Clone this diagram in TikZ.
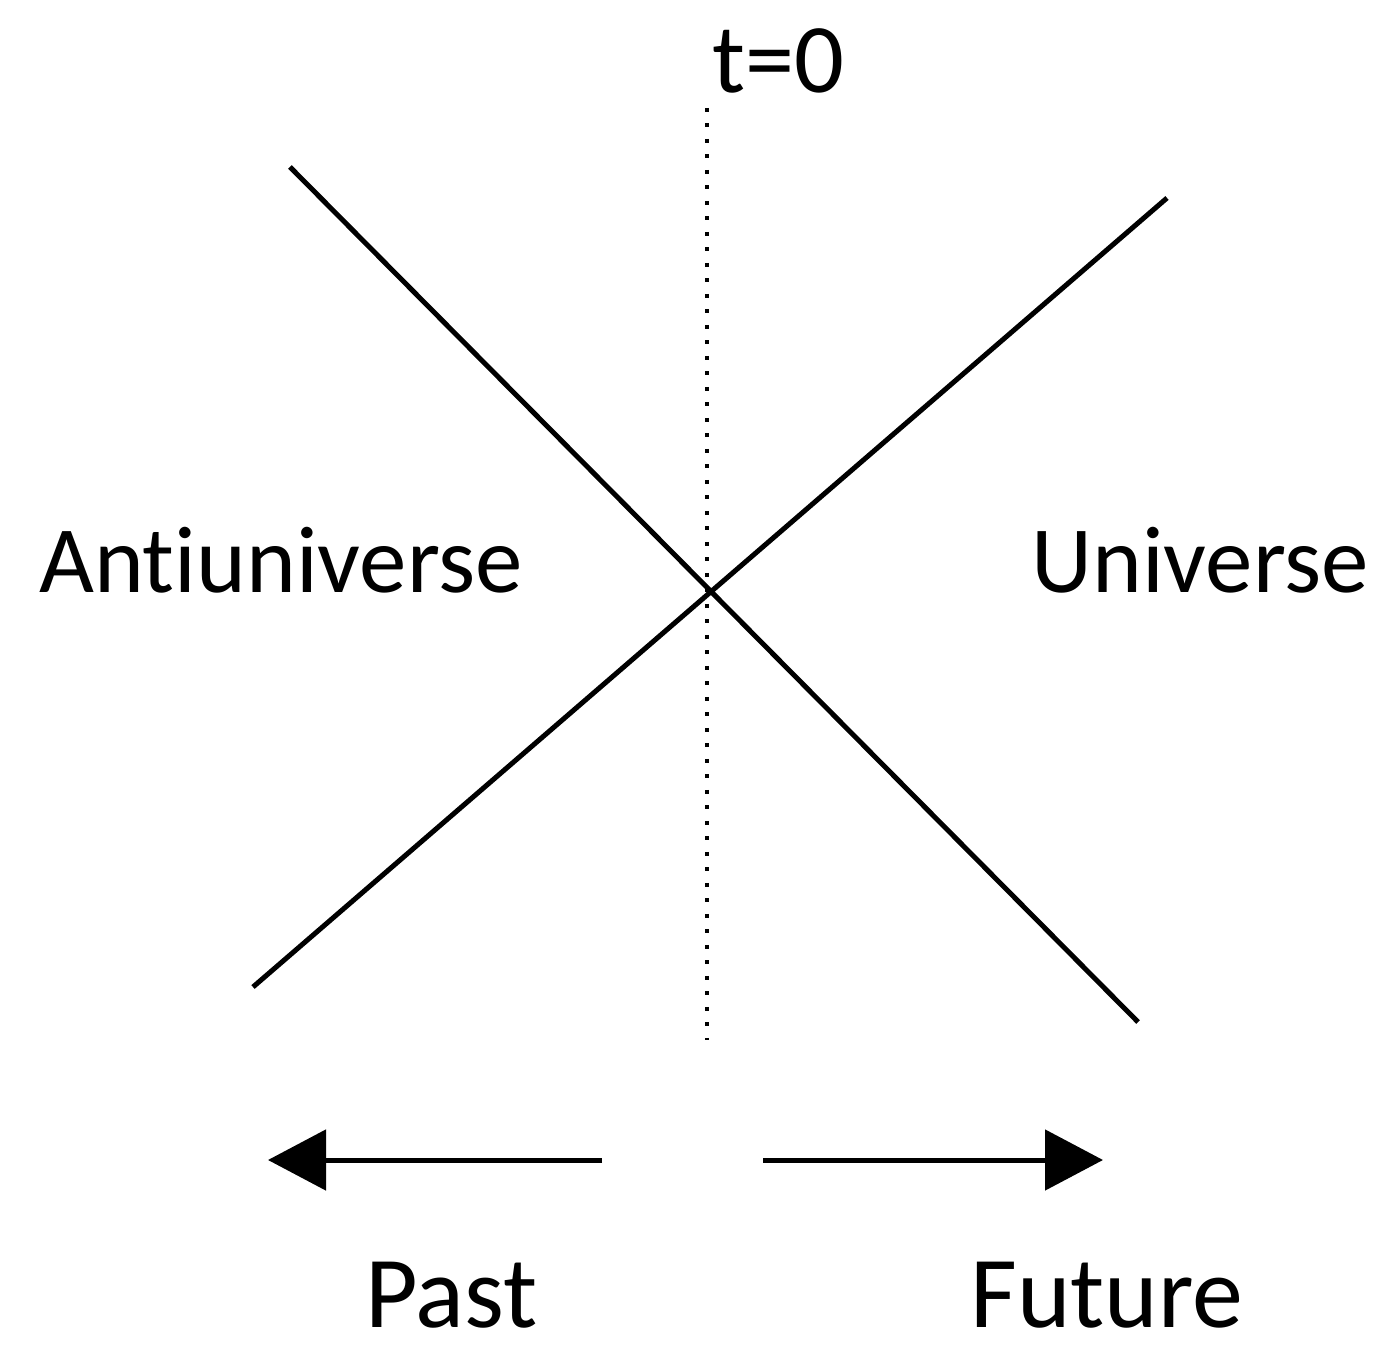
\documentclass[tikz,border=0pt]{standalone}
\usepackage{fontspec}
\setmainfont[Ligatures=NoCommon]{Carlito}
\usetikzlibrary{arrows.meta}

\begin{document}
\begin{tikzpicture}
        \tikzstyle{world line}=[line width=0.05cm]
        \tikzstyle{time arrow}=[line width=0.05cm, -{Triangle[length=0.58cm,width=0.6cm]}]
        \tikzstyle{big text}=[inner sep=0pt, anchor=base, font=\fontsize{27}{32}\selectfont]
        \tikzstyle{time word}=[big text, font=\fontsize{29}{34}\selectfont]

        % Fix the page size
        \useasboundingbox (-7.07,-7.84) rectangle (6.91,5.85);

        % Ends of the lines
        \coordinate (O) at (0,0);
        \coordinate (A-1) at (-4.17,4.18);
        \coordinate (A-2) at (4.31,-4.37);
        \coordinate (B-1) at (-4.54,-4.02);
        \coordinate (B-2) at (4.60,3.87);
        \coordinate (T-top) at (0,4.77);
        \coordinate (T-bot) at (0,-4.55);

        % Crossing lines
        \draw[world line] (A-1) -- (A-2);
        \draw[world line] (B-1) -- (B-2);

        % t=0 line
        \draw[line width=0.04cm, dash pattern=on 0.04cm off 0.115cm] (T-top) -- (T-bot);
        \node[big text, font=\fontsize{28}{32}\selectfont] (t0) at (0.71,4.92) {t=0};

        % Regions
        \node[big text] (anti) at (-4.26,-0.08) {Antiuniverse};
        \node[big text] (uni) at (4.93,-0.08) {Universe};

        % Arrows
        \coordinate (P-start) at (-1.05,-5.75);
        \coordinate (P-end) at (-4.39,-5.75);
        \coordinate (F-start) at (0.56,-5.75);
        \coordinate (F-end) at (3.96,-5.75);
        \draw[time arrow] (P-start) -- (P-end);
        \draw[time arrow] (F-start) -- (F-end);

        % Annotate the directions
        \node[time word] (past) at (-2.555,-7.42) {Past};
        \node[time word] (future) at (4.00,-7.42) {Future};

\end{tikzpicture}
\end{document}
